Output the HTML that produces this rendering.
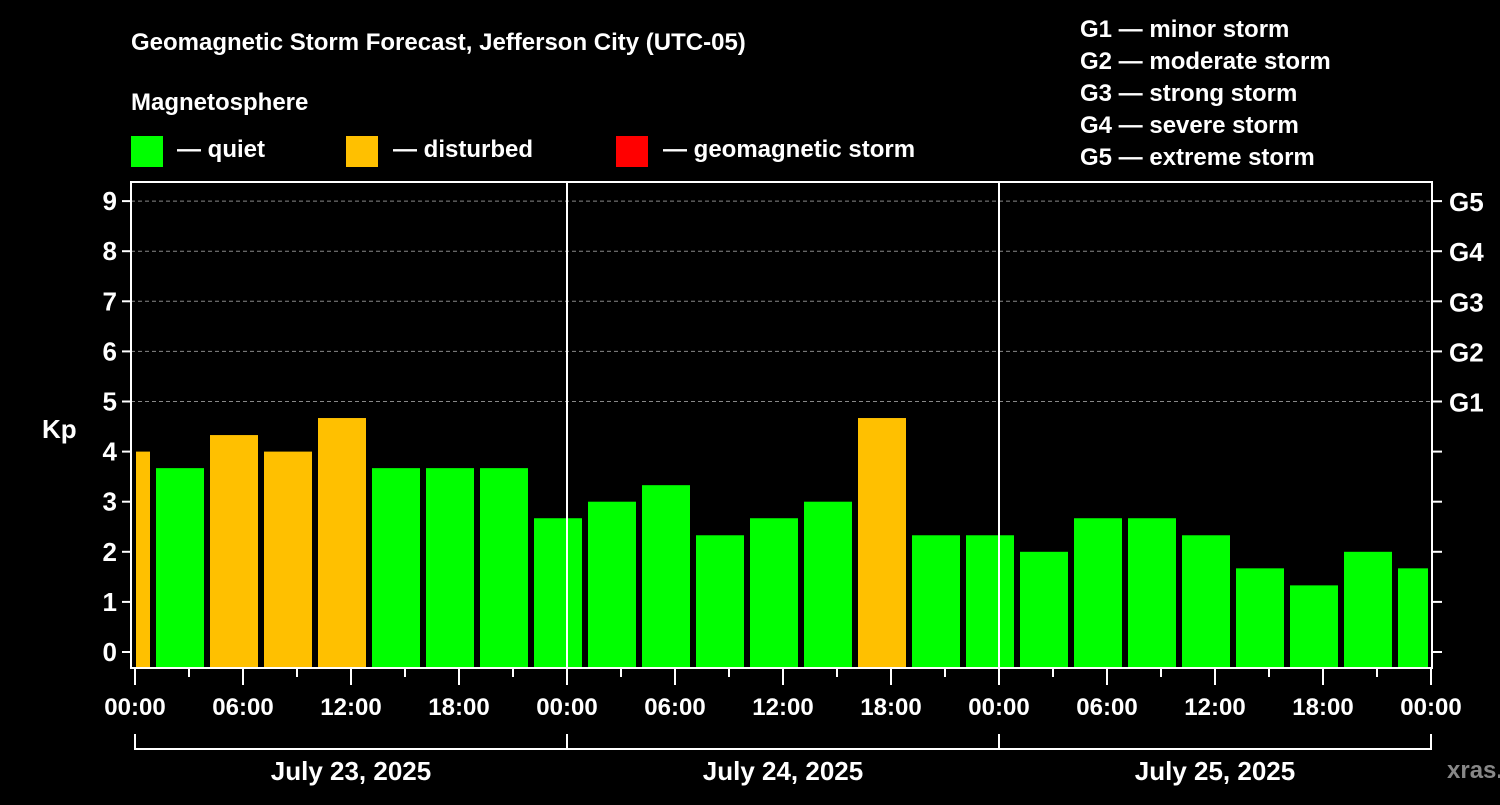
<!DOCTYPE html>
<html><head><meta charset="utf-8"><style>
body{margin:0;background:#000;width:1500px;height:800px;overflow:hidden}
svg text{font-family:"Liberation Sans",Arial,sans-serif;font-weight:bold;fill:#fff}
</style></head><body>
<svg id="c" width="1500" height="800" xmlns="http://www.w3.org/2000/svg">
<text x="131" y="50" font-size="24">Geomagnetic Storm Forecast, Jefferson City (UTC-05)</text>
<text x="131" y="110" font-size="24">Magnetosphere</text>
<rect x="131" y="136" width="32" height="31" fill="#00ff00"/>
<text x="177" y="157" font-size="24">— quiet</text>
<rect x="346" y="136" width="32" height="31" fill="#ffc000"/>
<text x="393" y="157" font-size="24">— disturbed</text>
<rect x="616" y="136" width="32" height="31" fill="#ff0000"/>
<text x="663" y="157" font-size="24">— geomagnetic storm</text>
<text x="1080" y="37" font-size="24">G1 — minor storm</text>
<text x="1080" y="69" font-size="24">G2 — moderate storm</text>
<text x="1080" y="101" font-size="24">G3 — strong storm</text>
<text x="1080" y="133" font-size="24">G4 — severe storm</text>
<text x="1080" y="165" font-size="24">G5 — extreme storm</text>
<text x="42" y="438" font-size="26">Kp</text>
<text x="1447" y="778" font-size="24" fill="#888" style="fill:#888">xras.ru</text>
<g id="g"></g>
</svg>
<script>
const kpValues=[4.0,3.67,4.33,4.0,4.67,3.67,3.67,3.67,2.67,3.0,3.33,2.33,2.67,3.0,4.67,2.33,2.33,2.0,2.67,2.67,2.33,1.67,1.33,2.0,1.67];
const barStartHours=[-2,1,4,7,10,13,16,19,22,25,28,31,34,37,40,43,46,49,52,55,58,61,64,67,70];
const xTickLabels=["00:00","06:00","12:00","18:00","00:00","06:00","12:00","18:00","00:00","06:00","12:00","18:00","00:00"];
const dayLabels=["July 23, 2025","July 24, 2025","July 25, 2025"];
const yTicks=[0,1,2,3,4,5,6,7,8,9];
const gLabels=["G1","G2","G3","G4","G5"];
const NS="http://www.w3.org/2000/svg",G=document.getElementById('g');
const L=131,R=1432,T=182,B=668,X0=135,PXH=18;
const xs=h=>X0+h*PXH, ys=k=>652-k*50.1;
function mk(t,a,txt){const e=document.createElementNS(NS,t);for(const k in a)e.setAttribute(k,a[k]);if(txt!=null)e.textContent=txt;G.appendChild(e);return e;}
for(let k=5;k<=9;k++){const e=mk('line',{x1:L,x2:R,y1:ys(k),y2:ys(k),stroke:'#888','stroke-dasharray':'4,3','stroke-width':1});

}
kpValues.forEach((v,i)=>{let x1=Math.max(xs(barStartHours[i])+3,X0+1),x2=Math.min(xs(barStartHours[i]+3)-3,R-4);
const e=mk('rect',{x:x1,y:ys(v),width:x2-x1,height:B-ys(v),fill:v>=4?'#ffc000':(v>=5?'#ff0000':'#00ff00')});

});
[24,48].forEach(h=>{const e=mk('line',{x1:xs(h),x2:xs(h),y1:T,y2:B,stroke:'#fff','stroke-width':2});

});
const f=mk('rect',{x:L,y:T,width:R-L,height:B-T,fill:'none',stroke:'#fff','stroke-width':2});


yTicks.forEach(k=>{mk('line',{x1:122,x2:L,y1:ys(k),y2:ys(k),stroke:'#fff','stroke-width':2});
mk('line',{x1:R,x2:R+10,y1:ys(k),y2:ys(k),stroke:'#fff','stroke-width':2});
const t=mk('text',{x:117,y:ys(k)+9,'font-size':26,'text-anchor':'end'},k);

});
gLabels.forEach((g,i)=>{const t=mk('text',{x:1449,y:ys(5+i)+10,'font-size':26},g);

});
for(let h=0;h<=72;h+=3){const maj=h%6==0;mk('line',{x1:xs(h),x2:xs(h),y1:B,y2:B+(maj?17:9),stroke:'#fff','stroke-width':2});}
xTickLabels.forEach((s,i)=>{const t=mk('text',{x:xs(i*6),y:715,'font-size':24,'text-anchor':'middle'},s);

});
mk('line',{x1:xs(0),x2:xs(72),y1:749,y2:749,stroke:'#fff','stroke-width':2});
[0,24,48,72].forEach(h=>mk('line',{x1:xs(h),x2:xs(h),y1:734,y2:750,stroke:'#fff','stroke-width':2}));
dayLabels.forEach((d,i)=>{const t=mk('text',{x:xs(i*24+12),y:780,'font-size':26,'text-anchor':'middle'},d);

});
</script>
</body></html>
